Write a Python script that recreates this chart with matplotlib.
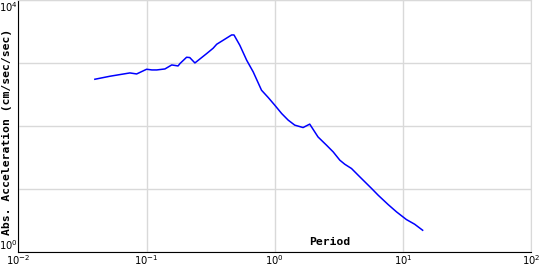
"""Response spectrum: absolute acceleration vs period (log-log)."""
import math
import matplotlib
matplotlib.use('Agg')
import matplotlib.pyplot as plt
import matplotlib.ticker as mticker

BLUE = "#0000ff"
GRID = "#d9d9d9"

# Period (sec) and absolute acceleration (cm/sec/sec)
period = [0.0395, 0.0518, 0.0741, 0.0836, 0.100, 0.110, 0.120, 0.139, 0.157,
          0.176, 0.182, 0.205, 0.217, 0.238, 0.294, 0.330, 0.352, 0.395,
          0.460, 0.480, 0.533, 0.603, 0.678, 0.787, 0.887, 1.00, 1.13, 1.27,
          1.43, 1.66, 1.87, 2.17, 2.53, 2.85, 3.21, 3.51, 3.96, 4.46, 5.19,
          5.67, 6.39, 7.64, 8.89, 10.6, 12.3, 14.2]
accel = [557, 622, 702, 676, 803, 783, 783, 812, 940,
         906, 989, 1245, 1231, 1011, 1425, 1730, 2003, 2317,
         2814, 2814, 1931, 1116, 728, 373, 286, 215, 159, 125,
         104, 95.3, 108, 67.6, 49.9, 39.1, 28.9, 24.9, 21.3, 16.7, 12.3,
         10.3, 8.03, 5.71, 4.36, 3.30, 2.78, 2.23]

xlim = (1e-2, 1e2)
ylim = (1e0, 1e4)
ylabeled = (1e0, 1e4)   # only the end decades carry a label on y


def ylab(v, pos):
    if v in ylabeled:
        return r'$10^{%d}$' % round(math.log10(v))
    return ''


fig = plt.figure(figsize=(5.4, 2.7), dpi=100)
ax = fig.add_axes([0.034, 0.066, 0.950, 0.933])

ax.plot(period, accel, color=BLUE, lw=1.1)

ax.set_xscale('log')
ax.set_yscale('log')
ax.set_xlim(*xlim)
ax.set_ylim(*ylim)

ax.grid(True, which='major', color=GRID, lw=1)
ax.minorticks_off()
ax.set_yticks([1e0, 1e1, 1e2, 1e3, 1e4])
ax.yaxis.set_major_formatter(mticker.FuncFormatter(ylab))
ax.tick_params(length=0, labelsize=7.2, pad=0.5)
for lab, va in zip(ax.get_yticklabels(), ['bottom', '', '', '', 'top']):
    if va:
        lab.set_va(va)

for s in ['top', 'right']:
    ax.spines[s].set_color(GRID)
for s in ['left', 'bottom']:
    ax.spines[s].set_color('black')

fig.text(0.013, 0.512, 'Abs. Acceleration (cm/sec/sec)', rotation=90,
         ha='center', va='center', fontsize=8.2, fontweight='bold',
         family='DejaVu Sans Mono')
fig.text(0.611, 0.104, 'Period', ha='center', va='center', fontsize=8.2,
         fontweight='bold', family='DejaVu Sans Mono')

plt.savefig('out.png', dpi=100)
plt.close()
